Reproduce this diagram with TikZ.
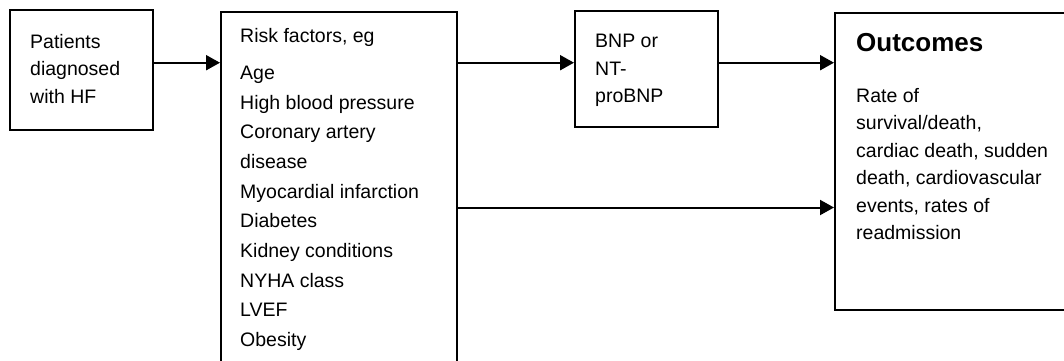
\documentclass[tikz,border=0pt]{standalone}
\usepackage{fontspec}
\setmainfont{Liberation Sans}
\usetikzlibrary{arrows.meta}
\begin{document}
\begin{tikzpicture}[x=1pt,y=-1pt,
  box/.style={draw, line width=2pt, rectangle, inner sep=0pt, anchor=north west},
  txt/.style={inner sep=0pt, anchor=north west, align=left,
    font=\fontsize{19.5}{27.5}\selectfont},
  arr/.style={line width=2pt, -{Triangle[length=14pt,width=15pt]}}]
  \useasboundingbox (0,0) rectangle (1064,360);
  \clip (0,0) rectangle (1064,360);
  \fill[white] (0,0) rectangle (1064,360);

  % rows of the horizontal connectors
  \coordinate (row1) at (0,62.7);
  \coordinate (row2) at (0,207.5);

  % boxes
  \node[box, minimum width=143pt, minimum height=120pt] (patients) at (9,9) {};
  \node[box, minimum width=236pt, minimum height=360pt] (risk) at (220,11) {};
  \node[box, minimum width=143pt, minimum height=116pt] (bnp) at (574,10) {};
  \node[box, minimum width=250pt, minimum height=297pt] (outcomes) at (834,12) {};

  % texts
  \node[txt] (patientsText) at (30,34) {Patients\\diagnosed\\with HF};
  \node[txt, font=\fontsize{19.5}{29.7}\selectfont] (riskText) at (240,28)
    {Risk factors, eg\\[7.3pt]Age\\High blood pressure\\Coronary artery\\disease\\Myocardial infarction\\Diabetes\\Kidney conditions\\NYHA class\\LVEF\\Obesity};
  \node[txt] (bnpText) at (595,34.3) {BNP or\\NT-\\proBNP};
  \node[txt, font=\fontsize{26}{30}\selectfont\bfseries] (outcomesTitle) at (856,33) {Outcomes};
  \node[txt] (outcomesText) at (856,87.7)
    {Rate of\\survival/death,\\cardiac death, sudden\\death, cardiovascular\\events, rates of\\readmission};

  % connectors
  \draw[arr] (patients.east |- row1) -- (risk.west |- row1);
  \draw[arr] (risk.east |- row1) -- (bnp.west |- row1);
  \draw[arr] (bnp.east |- row1) -- (outcomes.west |- row1);
  \draw[arr] (risk.east |- row2) -- (outcomes.west |- row2);
\end{tikzpicture}
\end{document}
